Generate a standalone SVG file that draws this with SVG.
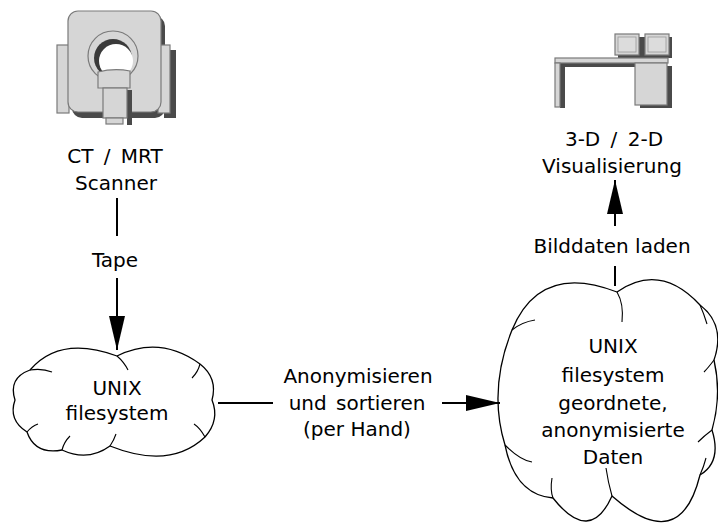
<svg xmlns="http://www.w3.org/2000/svg" width="718" height="525" viewBox="0 0 718 525">
  <style>
    .lbl { font-family: "DejaVu Sans", "Liberation Sans", sans-serif; font-size: 20px; fill: #000; text-anchor: middle; }
    .conn { stroke: #000; stroke-width: 2; fill: none; }
    .cloud { fill: #fff; stroke: #000; stroke-width: 1.3; stroke-linejoin: round; }
    .fold { fill: none; stroke: #000; stroke-width: 1.1; }
    .ic { fill: #d6d6d6; stroke: #7a7a7a; stroke-width: 1.2; }
    .sh { fill: #4a4a4a; }
  </style>
  <defs>
    <marker id="head" viewBox="0 0 34 16" refX="34" refY="8" markerWidth="34" markerHeight="16" markerUnits="userSpaceOnUse" orient="auto">
      <path d="M0,0 L34,8 L0,16 Z" fill="#000"/>
    </marker>
  </defs>
  <rect width="718" height="525" fill="#fff"/>

  <!-- CT / MRT scanner -->
  <g id="scanner">
    <rect class="sh" x="72" y="16" width="93" height="102" rx="10"/>
    <rect class="sh" x="164" y="50" width="12" height="68"/>
    <rect class="ic" x="57" y="45" width="12" height="68"/>
    <rect class="ic" x="158" y="45" width="12" height="68"/>
    <rect class="ic" x="68" y="11" width="93" height="101" rx="10"/>
    <circle class="ic" cx="113" cy="56" r="25" fill="#cfcfcf"/>
    <circle cx="113" cy="58" r="19" fill="#3a3a3a"/>
    <circle cx="116" cy="61" r="17" fill="#fff"/>
    <rect class="sh" x="127" y="90" width="5" height="35"/>
    <path class="ic" d="M98,72 Q114,68 130,71 L130,88 L98,88 Z"/>
    <rect class="ic" x="103" y="88" width="24" height="30"/>
    <rect class="ic" x="106" y="118" width="17" height="6"/>
    <text class="lbl" x="115" y="163" word-spacing="4">CT / MRT</text>
    <text class="lbl" x="116" y="190">Scanner</text>
  </g>

  <!-- 3-D / 2-D workstation -->
  <g id="workstation">
    <rect class="sh" x="618" y="37" width="54" height="21"/>
    <rect class="ic" x="615" y="34" width="24" height="21"/>
    <rect class="ic" x="645" y="34" width="24" height="21"/>
    <rect x="618" y="37" width="18" height="15" fill="#dcdcdc" stroke="#9a9a9a" stroke-width="0.8"/>
    <rect x="648" y="37" width="18" height="15" fill="#dcdcdc" stroke="#9a9a9a" stroke-width="0.8"/>
    <rect class="sh" x="640" y="66" width="32" height="42"/>
    <path class="sh" d="M560,63 L640,63 L640,67 L565,67 L565,108 L560,108 Z"/>
    <rect class="ic" x="555" y="58" width="113" height="5"/>
    <rect class="ic" x="555" y="63" width="5" height="44"/>
    <rect class="ic" x="635" y="63" width="32" height="42"/>
    <text class="lbl" x="614" y="146" word-spacing="4">3-D / 2-D</text>
    <text class="lbl" x="612" y="173">Visualisierung</text>
  </g>

  <!-- raw data filesystem -->
  <g id="fs-raw">
    <path class="cloud" d="M30,370 Q60,335 117,356 Q160,335 200,364 Q218,378 212,400 Q220,420 205,437 Q170,470 110,446 Q88,462 62,450 Q35,455 27,432 Q8,420 15,400 Q8,378 30,370 Z"/>
    <path class="fold" d="M117,356 Q124,362 128,370"/>
    <path class="fold" d="M30,370 Q42,368 52,372"/>
    <path class="fold" d="M200,364 Q198,372 192,378"/>
    <path class="fold" d="M205,437 Q200,428 194,424"/>
    <path class="fold" d="M110,446 Q114,440 116,434"/>
    <path class="fold" d="M62,450 Q64,442 70,436"/>
    <path class="fold" d="M27,432 Q32,426 38,424"/>
    <text class="lbl" x="117" y="395">UNIX</text>
    <text class="lbl" x="117" y="420">filesystem</text>
  </g>

  <!-- sorted, anonymised filesystem -->
  <g id="fs-sorted">
    <path class="cloud" d="M512,330 Q540,262 617,292 Q660,262 700,305 Q726,325 714,360 Q722,395 712,430 Q722,462 700,475 Q680,556 612,496 Q590,545 553,498 Q515,495 505,445 Q488,390 512,330 Z"/>
    <path class="fold" d="M617,292 Q624,304 622,322"/>
    <path class="fold" d="M512,330 Q522,322 535,320"/>
    <path class="fold" d="M700,305 Q704,314 707,324"/>
    <path class="fold" d="M714,360 Q708,368 704,372"/>
    <path class="fold" d="M712,430 Q704,436 698,442"/>
    <path class="fold" d="M700,475 Q704,466 706,458"/>
    <path class="fold" d="M612,496 Q608,482 606,468"/>
    <path class="fold" d="M553,498 Q550,490 552,478"/>
    <path class="fold" d="M505,445 Q520,460 532,462"/>
    <text class="lbl" x="613" y="353">UNIX</text>
    <text class="lbl" x="613" y="382">filesystem</text>
    <text class="lbl" x="613" y="410">geordnete,</text>
    <text class="lbl" x="613" y="437">anonymisierte</text>
    <text class="lbl" x="613" y="464">Daten</text>
  </g>

  <!-- connectors and their labels -->
  <g id="connectors">
    <line class="conn" x1="117" y1="198" x2="117" y2="236"/>
    <text class="lbl" x="115" y="267">Tape</text>
    <line class="conn" x1="117" y1="278" x2="117" y2="350" marker-end="url(#head)"/>

    <line class="conn" x1="218" y1="403" x2="273" y2="403"/>
    <text class="lbl" x="358" y="383">Anonymisieren</text>
    <text class="lbl" x="357" y="410" word-spacing="3">und sortieren</text>
    <text class="lbl" x="357" y="436">(per Hand)</text>
    <line class="conn" x1="442" y1="403" x2="500" y2="403" marker-end="url(#head)"/>

    <line class="conn" x1="615" y1="286" x2="615" y2="266"/>
    <text class="lbl" x="612" y="253">Bilddaten laden</text>
    <line class="conn" x1="615" y1="226" x2="615" y2="180" marker-end="url(#head)"/>
  </g>
</svg>
